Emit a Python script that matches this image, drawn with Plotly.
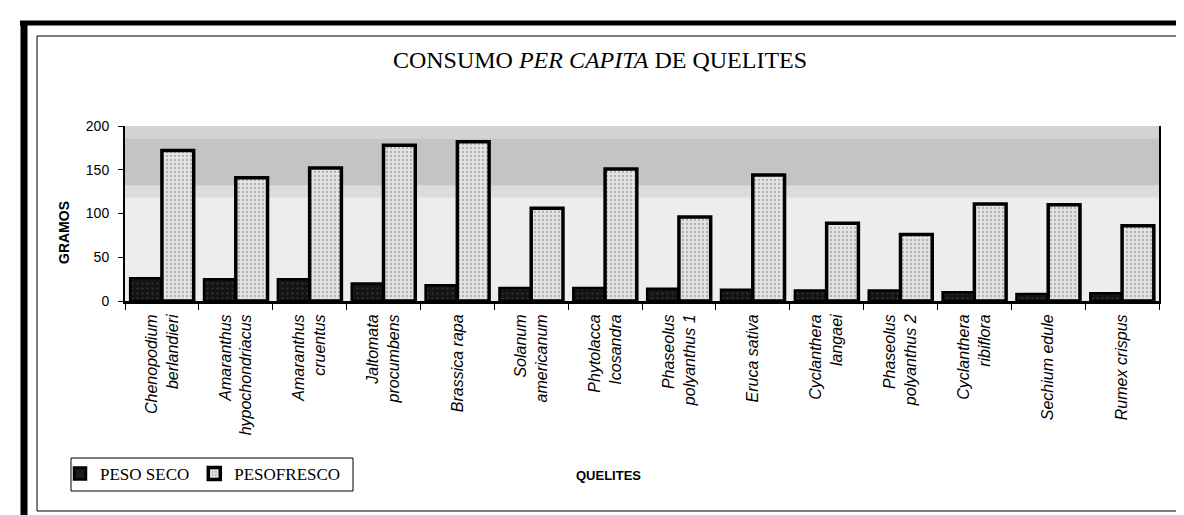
import plotly.graph_objects as go

# ---- data ----
categories = [
    "Chenopodium<br>berlandieri",
    "Amaranthus<br>hypochondriacus",
    "Amaranthus<br>cruentus",
    "Jaltomata<br>procumbens",
    "Brassica rapa",
    "Solanum<br>americanum",
    "Phytolacca<br>Icosandra",
    "Phaseolus<br>polyanthus 1",
    "Eruca sativa",
    "Cyclanthera<br>langaei",
    "Phaseolus<br>polyanthus 2",
    "Cyclanthera<br>ribiflora",
    "Sechium edule",
    "Rumex crispus",
]
peso_seco = [26, 25, 25, 20, 18, 15, 15, 14, 13, 12, 12, 10, 8, 9]
peso_fresco = [172, 141, 152, 178, 182, 106, 151, 96, 144, 89, 76, 111, 110, 86]
y_ticks = [0, 50, 100, 150, 200]

# ---- layout geometry (pixels) ----
W, H = 1184, 515
L, R_EDGE, TOP, BOT = 117, 1151, 118, 293
PW, PH = R_EDGE - L, BOT - TOP


def px(x):
    return (x - L) / PW


def py(y):
    return (BOT - y) / PH


fig = go.Figure()
fig.add_trace(go.Bar(
    x=categories, y=peso_seco, name="PESO SECO",
    marker=dict(color="#141414", line=dict(color="black", width=2.5),
                pattern=dict(shape=".", fgcolor="#555555", bgcolor="#141414",
                             size=5, solidity=0.15)),
))
fig.add_trace(go.Bar(
    x=categories, y=peso_fresco, name="PESOFRESCO",
    marker=dict(color="#dcdcdc", line=dict(color="black", width=3.5),
                pattern=dict(shape=".", fgcolor="#7a7a7a", bgcolor="#e4e4e4",
                             size=4, solidity=0.25)),
))

shapes = []
# background bands of the plot area (screened gradient at the top)
bands = [(118, 132, "#dcdcdc"), (132, 186, "#c4c4c4"), (186, 200, "#d4d4d4")]
for y0, y1, c in bands:
    shapes.append(dict(type="rect", xref="paper", yref="y", x0=0, x1=1,
                       y0=y0, y1=y1, fillcolor=c, line=dict(width=0),
                       layer="below"))
# inner thin frame
shapes.append(dict(type="rect", xref="paper", yref="paper",
                   x0=px(29), x1=px(1181), y0=py(503), y1=py(28),
                   line=dict(color="black", width=1), fillcolor="rgba(0,0,0,0)"))
# outer thick frame (top & left)
shapes.append(dict(type="line", xref="paper", yref="paper",
                   x0=px(12), x1=px(1184), y0=py(15), y1=py(15),
                   line=dict(color="black", width=5)))
shapes.append(dict(type="line", xref="paper", yref="paper",
                   x0=px(16), x1=px(16), y0=py(13), y1=py(515),
                   line=dict(color="black", width=7)))
# legend box
shapes.append(dict(type="rect", xref="paper", yref="paper",
                   x0=px(63), x1=px(345), y0=py(483), y1=py(450),
                   line=dict(color="black", width=1), fillcolor="white"))

annotations = [
    dict(text="GRAMOS", xref="paper", yref="paper", x=px(56), y=py(225),
         xanchor="center", yanchor="middle",
         textangle=-90, showarrow=False,
         font=dict(family="Liberation Sans", size=14, color="black", weight="bold")),
    dict(text="QUELITES", xref="paper", yref="paper", x=px(600), y=py(467),
         xanchor="center", yanchor="middle",
         showarrow=False,
         font=dict(family="Liberation Sans", size=13, color="black", weight="bold")),
]

fig.update_layout(
    width=W, height=H,
    margin=dict(l=L, r=W - R_EDGE, t=TOP, b=H - BOT, pad=0),
    paper_bgcolor="white",
    plot_bgcolor="#ededed",
    barmode="group", bargap=0.14, bargroupgap=0.0,
    title=dict(text="CONSUMO <i>PER CAPITA</i> DE QUELITES",
               xref="container", x=592 / W, xanchor="center",
               yref="container", y=1 - 52 / H, yanchor="middle",
               font=dict(family="Liberation Serif", size=24, color="black")),
    showlegend=True,
    legend=dict(orientation="h", x=px(52), y=py(466), xanchor="left", yanchor="middle",
                xref="paper", yref="paper",
                bgcolor="rgba(0,0,0,0)", borderwidth=0,
                font=dict(family="Liberation Serif", size=17, color="black"),
                itemwidth=30, traceorder="normal"),
    shapes=shapes,
    annotations=annotations,
)

fig.update_xaxes(
    type="category", showgrid=False,
    showline=True, linecolor="black", linewidth=3,
    ticks="outside", tickson="boundaries", ticklen=6, tickcolor="black", tickwidth=1,
    tickangle=-90, ticklabelstandoff=4,
    tickfont=dict(family="Liberation Sans", size=16, color="black", style="italic"),
)
fig.update_yaxes(
    range=[0, 200], tickvals=y_ticks, showgrid=False, zeroline=False,
    showline=True, linecolor="black", linewidth=2, mirror=True,
    ticks="outside", ticklen=5, tickcolor="black", tickwidth=1, ticklabelstandoff=6,
    tickfont=dict(family="Liberation Sans", size=14, color="black"),
)

fig.write_html("out.html")
